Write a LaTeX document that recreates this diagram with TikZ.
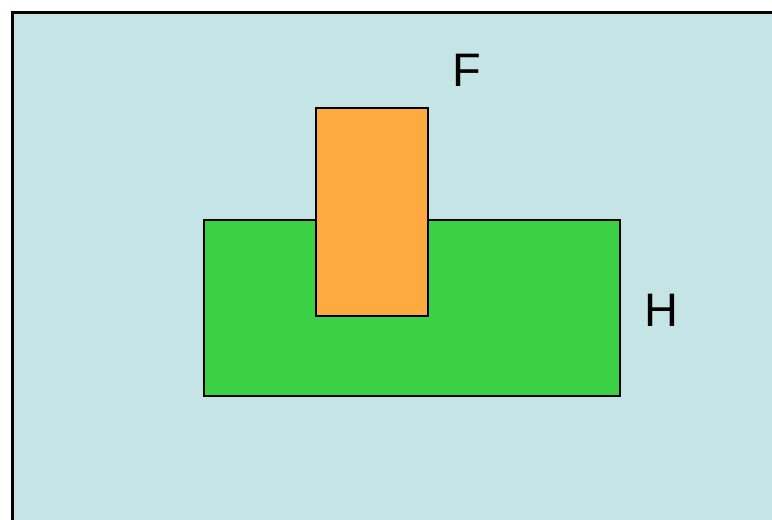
\documentclass[tikz,border=0pt]{standalone}
\usepackage{fontspec}
\setmainfont{Liberation Sans}
\definecolor{bgblue}{RGB}{196,228,230}
\definecolor{hgreen}{RGB}{58,210,68}
\definecolor{forange}{RGB}{255,170,64}
\begin{document}
\begin{tikzpicture}[x=1pt,y=-1pt,
  box/.style={draw=black,line width=1.5pt},
  lbl/.style={font=\fontsize{47}{50}\selectfont,inner sep=0pt,text=black}]
\useasboundingbox (0,0) rectangle (772,520);
\begin{scope}
\clip (0,0) rectangle (772,520);
\draw[fill=bgblue,line width=2.5pt] (12.5,12.5) rectangle (800,540);
\end{scope}
\draw[box,fill=hgreen] (204,220) rectangle (620,396);
\draw[box,fill=forange] (316,108) rectangle (428,316);
\node[lbl] (F) at (467,70) {F};
\node[lbl] (H) at (661,310) {H};
\end{tikzpicture}
\end{document}
